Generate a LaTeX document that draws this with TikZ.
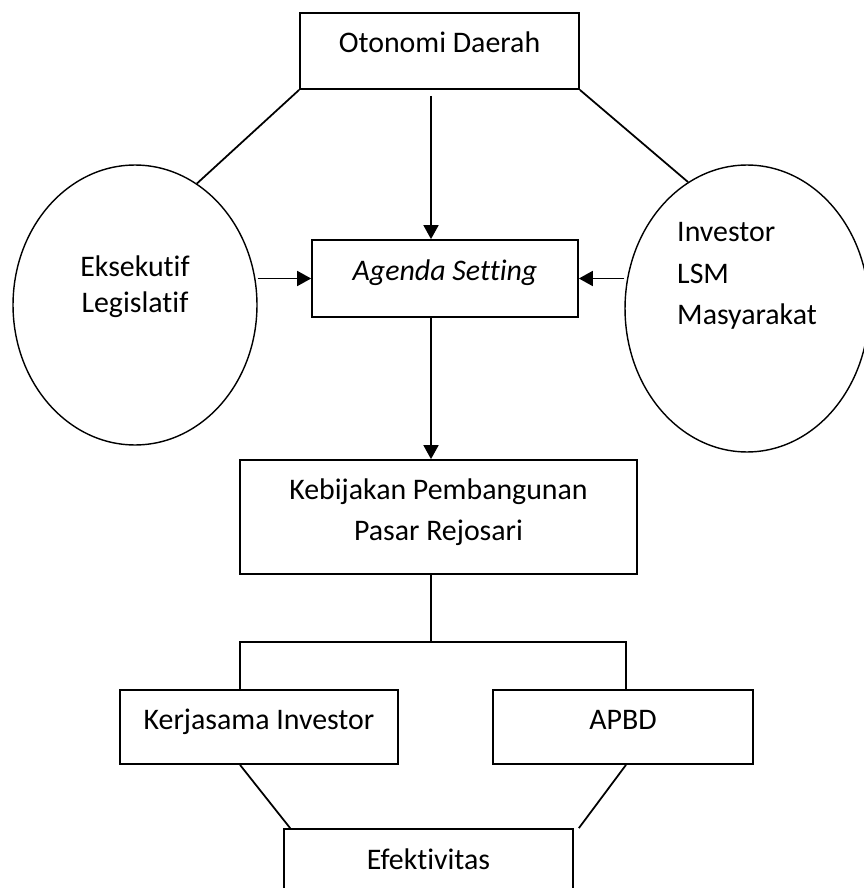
\documentclass[tikz,border=0pt]{standalone}
\usepackage{fontspec}
\setmainfont[Ligatures=NoCommon]{Carlito}
\usetikzlibrary{arrows.meta, shapes.geometric, calc}

\begin{document}
\begin{tikzpicture}[
  x=0.02cm, y=-0.02cm,
  every node/.style={font=\fontsize{17}{20.5}\selectfont},
  blok/.style={draw, line width=1pt, inner sep=0pt,
               text height=0.4cm, text depth=0.32cm},
  aktor/.style={draw, ellipse, line width=0.8pt, inner sep=0pt,
                minimum width=4.88cm},
  arr/.style={-{Triangle[length=0.28cm, width=0.3cm]}, line width=1pt},
  garis/.style={line width=1pt},
]
  \useasboundingbox (0,0) rectangle (864,888);
  \coordinate (axis) at (431,0);

  \node[blok, minimum width=5.58cm, minimum height=1.52cm] (otda) at (439.5,51)
    {Otonomi Daerah};

  \node[aktor, minimum height=5.6cm, align=center,
        text height=0.4cm, text depth=0.08cm] (eksek) at (135,305)
    {Eksekutif\\Legislatif};

  \node[aktor, minimum height=5.74cm, align=left,
        text height=0.8cm, text depth=0.14cm] (inves) at (747,308.5)
    {Investor\\[3.4pt]LSM\\[3.4pt]Masyarakat};

  \node[blok, minimum width=5.32cm, minimum height=1.54cm] (agenda) at (445,278.5)
    {\textit{Agenda Setting}};

  \node[blok, minimum width=7.94cm, minimum height=2.28cm, align=center,
        text height=1.0cm, text depth=0.08cm] (bijak) at (438.5,517)
    {Kebijakan Pembangunan\\[2.3pt]Pasar Rejosari};

  \node[blok, minimum width=5.56cm, minimum height=1.48cm] (kerja) at (259,727)
    {Kerjasama Investor};
  \node[blok, minimum width=5.2cm, minimum height=1.48cm] (apbd) at (623,727)
    {APBD};

  \node[blok, minimum width=5.78cm, minimum height=1.52cm] (efek) at (428.5,867)
    {Efektivitas};

  % percabangan di bawah kebijakan
  \coordinate (cabkiri) at (240,642);
  \coordinate (cabkanan) at (626,642);

  \draw[garis] (otda.south west) -- (eksek.63);
  \draw[garis] (otda.south east) -- (inves.115);
  \draw[arr] ([yshift=-0.12cm]otda.south -| axis) -- (agenda.north -| axis);
  \draw[arr] (agenda.west -| eksek.east) -- (agenda.west);
  \draw[arr] (agenda.east -| inves.west) -- (agenda.east);
  \draw[arr] (agenda.south -| axis) -- (bijak.north -| axis);

  \draw[garis] (bijak.south -| axis) -- (axis |- cabkiri);
  \draw[garis] (kerja.north -| cabkiri) -- (cabkiri) -- (cabkanan) -- (apbd.north -| cabkanan);

  \draw[garis] (kerja.south -| cabkiri) -- ([xshift=0.14cm]efek.north west);
  \draw[garis] (apbd.south -| cabkanan) -- ([xshift=0.1cm]efek.north east);
\end{tikzpicture}
\end{document}
